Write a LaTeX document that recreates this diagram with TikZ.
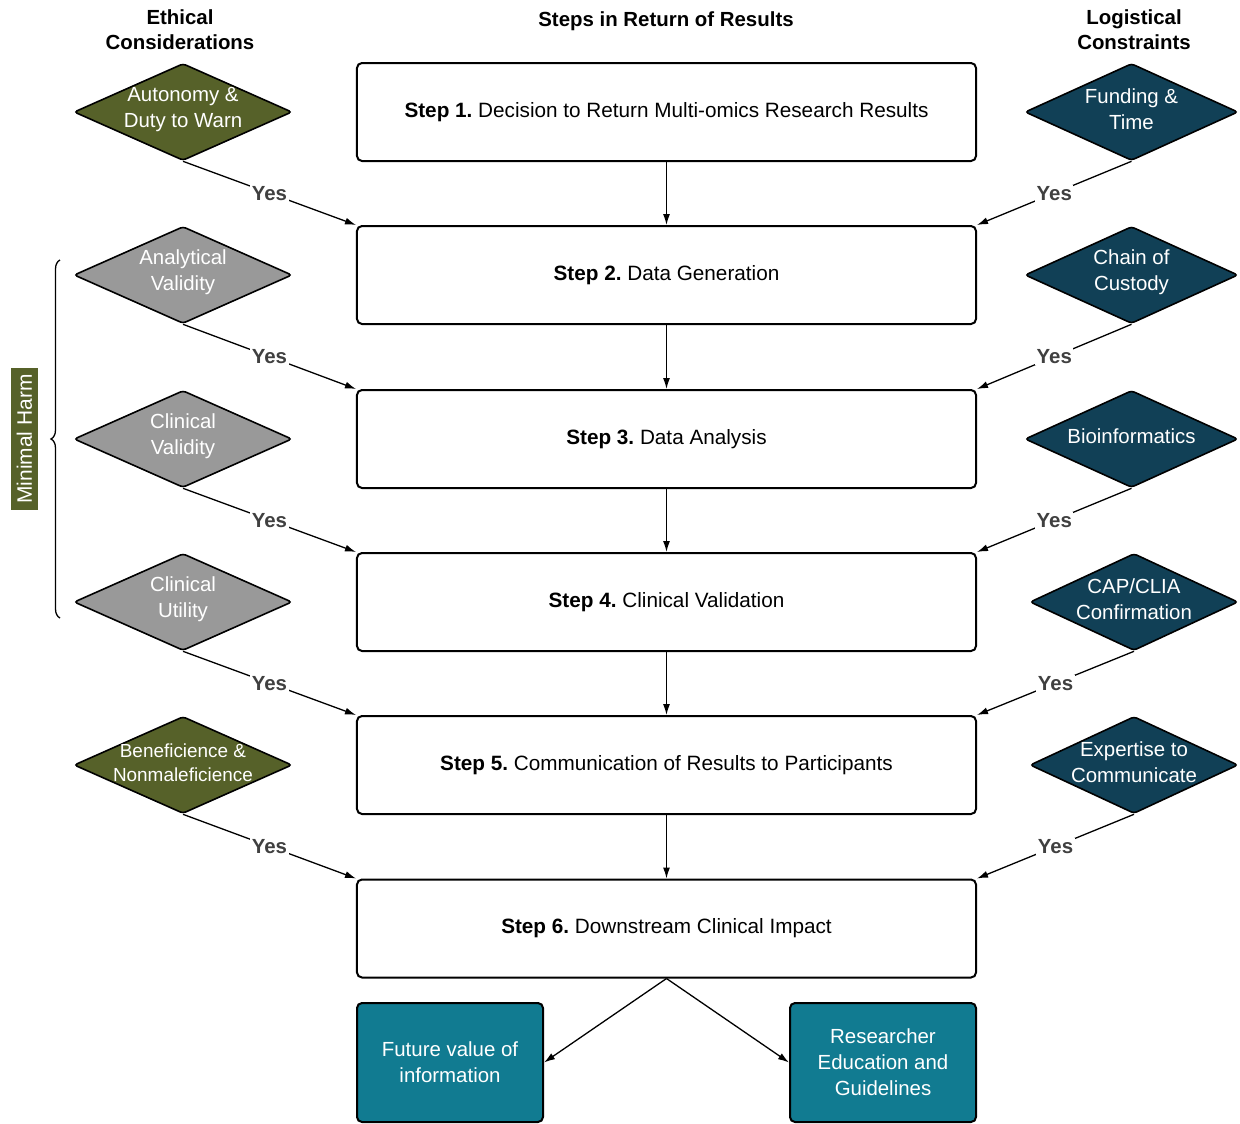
\documentclass[tikz,border=0pt]{standalone}
\usepackage{fontspec}
\setmainfont{Liberation Sans}
\usetikzlibrary{shapes.geometric,arrows.meta,decorations.pathreplacing}
\definecolor{olive}{RGB}{86,97,41}
\definecolor{navy}{RGB}{17,64,86}
\definecolor{grayd}{RGB}{153,153,153}
\definecolor{teal}{RGB}{17,123,145}
\definecolor{yesc}{RGB}{64,64,64}
\tikzset{
  stepbox/.style={draw=black, line width=2bp, rounded corners=5bp, fill=white,
    minimum width=619bp, minimum height=98bp, inner sep=0, font=\fontsize{20.8}{24}\selectfont},
  dia/.style={diamond, draw=black, line width=1.6bp, rounded corners=3bp, inner sep=0,
    minimum width=218bp, minimum height=97bp},
  dtext/.style={text=white, align=center, font=\fontsize{20.5}{26}\selectfont},
  outbox/.style={draw=black, line width=2bp, rounded corners=5bp, fill=teal, text=white,
    minimum width=186bp, minimum height=119bp, align=center, font=\fontsize{20.5}{26}\selectfont},
  conn/.style={line width=1.3bp, -{Latex[length=11bp,width=7bp]}},
  yes/.style={fill=white, inner sep=1.5bp, text=yesc, font=\bfseries\fontsize{20.5}{24}\selectfont},
  head/.style={align=center, font=\bfseries\fontsize{20.5}{25}\selectfont}
}
\newcommand{\stp}[2]{\textbf{Step #1.}\ #2}
\begin{document}
\begin{tikzpicture}[x=1bp,y=-1bp]
\useasboundingbox (0,0) rectangle (1240,1124);
% headings
\node[head] (h1) at (180,30) {Ethical\\Considerations};
\node[head] (h2) at (666,21) {Steps in Return of Results};
\node[head] (h3) at (1134,30) {Logistical\\Constraints};
% steps
\node[stepbox] (s1) at (666.5,112) {\stp{1}{Decision to Return Multi-omics Research Results}};
\node[stepbox] (s2) at (666.5,275) {\stp{2}{Data Generation}};
\node[stepbox] (s3) at (666.5,439) {\stp{3}{Data Analysis}};
\node[stepbox] (s4) at (666.5,602) {\stp{4}{Clinical Validation}};
\node[stepbox] (s5) at (666.5,765) {\stp{5}{Communication of Results to Participants}};
\node[stepbox] (s6) at (666.5,928.5) {\stp{6}{Downstream Clinical Impact}};
% left diamonds
\node[dia, fill=olive] (l1) at (183,112) {};
\node[dtext] (l1t) at ([yshift=2.5bp]l1.center) {Autonomy \&\\Duty to Warn};
\node[dia, fill=grayd] (l2) at (183,275) {};
\node[dtext] (l2t) at ([yshift=2.5bp]l2.center) {Analytical\\Validity};
\node[dia, fill=grayd] (l3) at (183,439) {};
\node[dtext] (l3t) at ([yshift=2.5bp]l3.center) {Clinical\\Validity};
\node[dia, fill=grayd] (l4) at (183,602) {};
\node[dtext] (l4t) at ([yshift=2.5bp]l4.center) {Clinical\\Utility};
\node[dia, fill=olive] (l5) at (183,765) {};
\node[dtext, font=\fontsize{19}{24}\selectfont] (l5t) at ([yshift=2.5bp]l5.center) {Beneficience \&\\Nonmaleficience};
% right diamonds
\node[dia, fill=navy, minimum width=213bp] (r1) at (1131.5,112) {};
\node[dtext] (r1t) at ([yshift=2.5bp]r1.center) {Funding \&\\Time};
\node[dia, fill=navy, minimum width=213bp] (r2) at (1131.5,275) {};
\node[dtext] (r2t) at ([yshift=2.5bp]r2.center) {Chain of\\Custody};
\node[dia, fill=navy, minimum width=213bp] (r3) at (1131.5,439) {};
\node[dtext] (r3t) at ([yshift=3bp]r3.center) {Bioinformatics};
\node[dia, fill=navy, minimum width=208bp] (r4) at (1134,602) {};
\node[dtext] (r4t) at ([yshift=2.5bp]r4.center) {CAP/CLIA\\Confirmation};
\node[dia, fill=navy, minimum width=208bp] (r5) at (1134,765) {};
\node[dtext] (r5t) at ([yshift=2.5bp]r5.center) {Expertise to\\Communicate};
% output boxes
\node[outbox] (fv) at (450,1062.5) {Future value of\\information};
\node[outbox] (re) at (883,1062.5) {Researcher\\Education and\\Guidelines};
% vertical arrows
\draw[conn] (s1.south) -- (s2.north);
\draw[conn] (s2.south) -- (s3.north);
\draw[conn] (s3.south) -- (s4.north);
\draw[conn] (s4.south) -- (s5.north);
\draw[conn] (s5.south) -- (s6.north);
\draw[conn] (s6.south) -- (fv.east);
\draw[conn] (s6.south) -- (re.west);
% left yes arrows
\draw[conn] (l1.south) -- node[yes]{Yes} (s2.north west);
\draw[conn] (l2.south) -- node[yes]{Yes} (s3.north west);
\draw[conn] (l3.south) -- node[yes]{Yes} (s4.north west);
\draw[conn] (l4.south) -- node[yes]{Yes} (s5.north west);
\draw[conn] (l5.south) -- node[yes]{Yes} (s6.north west);
% right yes arrows
\draw[conn] (r1.south) -- node[yes]{Yes} (s2.north east);
\draw[conn] (r2.south) -- node[yes]{Yes} (s3.north east);
\draw[conn] (r3.south) -- node[yes]{Yes} (s4.north east);
\draw[conn] (r4.south) -- node[yes]{Yes} (s5.north east);
\draw[conn] (r5.south) -- node[yes]{Yes} (s6.north east);
% brace and label
\coordinate (bt) at (60,260);
\coordinate (bb) at (60,618);
\draw[line width=1.3bp, decorate, decoration={brace, amplitude=9bp}] (bb) -- (bt);
\node[fill=olive, text=white, rotate=90, minimum width=142bp, minimum height=27bp, inner sep=0,
  font=\fontsize{21}{24}\selectfont] (mh) at (24.5,439) {Minimal Harm};
\end{tikzpicture}
\end{document}
